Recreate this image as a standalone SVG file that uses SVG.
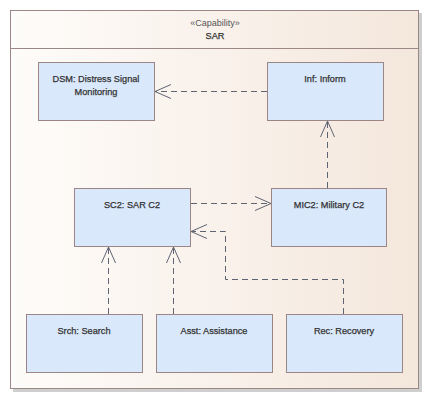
<svg xmlns="http://www.w3.org/2000/svg" width="430" height="400" viewBox="0 0 430 400">
<style>
.node rect{fill:#dae8fb;stroke:#9b8585;stroke-width:1}
.lbl{font-family:"Liberation Sans",Arial,sans-serif;font-size:9.2px;fill:#333;text-anchor:middle;stroke:#333;stroke-width:0.25}
.conn path{fill:none;stroke:#5f6473;stroke-width:1}
.conn .d{stroke-dasharray:6,4}
</style>
<defs>
<linearGradient id="bg" x1="0" y1="0" x2="1" y2="0">
<stop offset="0" stop-color="#fefcfa"/>
<stop offset="1" stop-color="#f4e7dc"/>
</linearGradient>
</defs>
<g id="SAR">
<rect x="13" y="13" width="409" height="379" fill="#cfcfcf"/>
<rect x="10.5" y="10.5" width="408" height="378" fill="url(#bg)" stroke="#9c8787"/>
<line x1="10.5" y1="48.5" x2="418.5" y2="48.5" stroke="#9c8787"/>
<text x="215" y="26" font-family="'Liberation Sans',Arial,sans-serif" font-size="9px" fill="#555" text-anchor="middle">«Capability»</text>
<text x="215" y="39" class="lbl">SAR</text>
</g>
<g id="DSM" class="node"><rect x="38.5" y="62.5" width="116" height="58"/>
<text x="96" y="82" class="lbl">DSM: Distress Signal</text><text x="96" y="95" class="lbl">Monitoring</text></g>
<g id="Inf" class="node"><rect x="267.5" y="62.5" width="116" height="58"/>
<text x="325" y="82" class="lbl">Inf: Inform</text></g>
<g id="SC2" class="node"><rect x="74.5" y="188.5" width="116" height="58"/>
<text x="132" y="208" class="lbl">SC2: SAR C2</text></g>
<g id="MIC2" class="node"><rect x="271.5" y="188.5" width="115" height="58"/>
<text x="329" y="208" class="lbl">MIC2: Military C2</text></g>
<g id="Srch" class="node"><rect x="26.5" y="314.5" width="116" height="58"/>
<text x="84" y="334" class="lbl">Srch: Search</text></g>
<g id="Asst" class="node"><rect x="156.5" y="314.5" width="116" height="58"/>
<text x="214" y="334" class="lbl">Asst: Assistance</text></g>
<g id="Rec" class="node"><rect x="286.5" y="314.5" width="116" height="58"/>
<text x="344" y="334" class="lbl">Rec: Recovery</text></g>
<g id="connectors" class="conn">
<path class="d" d="M267 91.5H155"/><path d="M171 84.5L155 91.5L171 98.5"/>
<path class="d" d="M327.5 188V121"/><path d="M320.5 137L327.5 121L334.5 137"/>
<path class="d" d="M191 203.5H271"/><path d="M255 196.5L271 203.5L255 210.5"/>
<path class="d" d="M343.5 314V279.5H225.5V231.5H191"/><path d="M207 224.5L191 231.5L207 238.5"/>
<path class="d" d="M108.5 314V247"/><path d="M101.5 263L108.5 247L115.5 263"/>
<path class="d" d="M173.5 314V247"/><path d="M166.5 263L173.5 247L180.5 263"/>
</g>
</svg>
